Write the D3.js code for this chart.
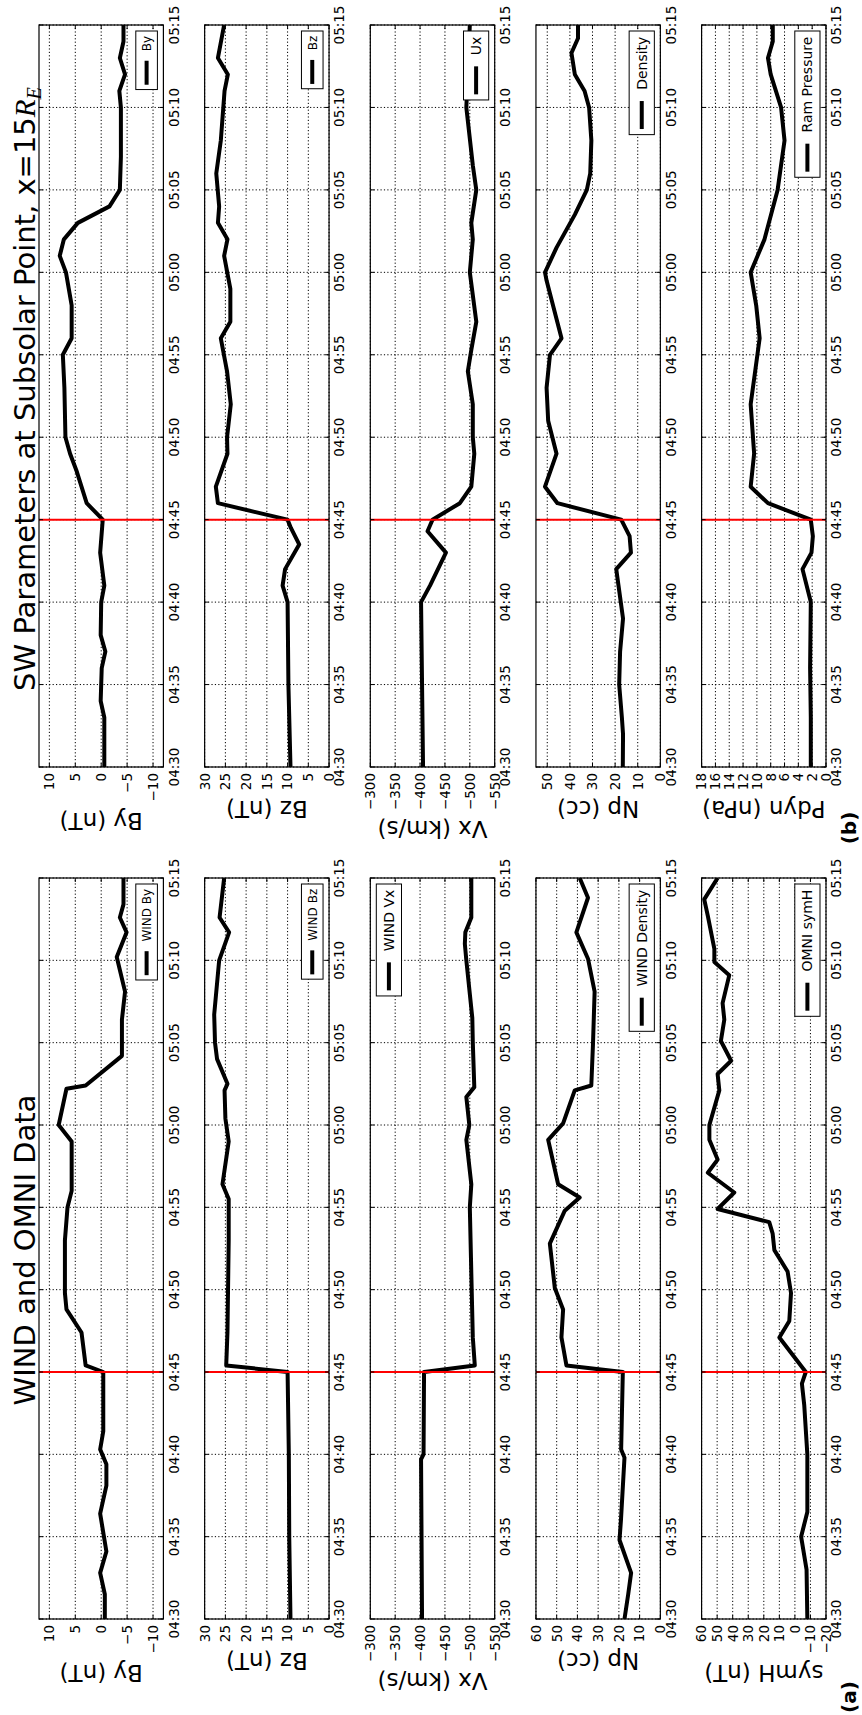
<!DOCTYPE html>
<html>
<head>
<meta charset="utf-8">
<script src="https://cdn.jsdelivr.net/npm/d3@7"></script>
<style>
  body { margin: 0; background: #fff; }
  svg { display: block; }
  text { font-family: "DejaVu Sans", sans-serif; fill: #000; }
</style>
</head>
<body>
<svg id="fig" width="862" height="1715"></svg>
<script>
// ---- time axis (clock labels) and the event marker ----
const timeTicks = ["04:30", "04:35", "04:40", "04:45", "04:50", "04:55", "05:00", "05:05", "05:10", "05:15"];
const eventTime = "04:45";

// ---- value axes: limits and tick values ----
const byRange = [-12, 12],   byTicks = [-10, -5, 0, 5, 10];
const bzRange = [0, 30],     bzTicks = [0, 5, 10, 15, 20, 25, 30];
const vxRange = [-550, -300], vxTicks = [-550, -500, -450, -400, -350, -300];
const npRangeA = [0, 60],    npTicksA = [0, 10, 20, 30, 40, 50, 60];
const npRangeB = [0, 55],    npTicksB = [0, 10, 20, 30, 40, 50];
const symhRange = [-20, 60], symhTicks = [-20, -10, 0, 10, 20, 30, 40, 50, 60];
const pdynRange = [0, 18],   pdynTicks = [0, 2, 4, 6, 8, 10, 12, 14, 16, 18];

// ---- (a) WIND and OMNI series: [minutes after 04:30, value] ----
const windBy = [[0,-0.7],[1.5,-0.7],[2.8,0.2],[4.1,-1.0],[6.4,0.2],[8.1,-1.0],[9.4,-1.0],[10.3,0.2],[11.4,-0.4],[15,-0.4],[15.4,3.0],[17.4,3.8],[18.8,6.7],[19.8,7.0],[23,7.0],[25,6.5],[26,5.7],[29,5.7],[30,8.2],[32.2,6.7],[32.4,3.0],[34.2,-4.0],[36.4,-4.0],[38.1,-4.6],[40.2,-3.0],[41.7,-4.9],[42.6,-3.6],[43.4,-4.3],[45,-4.3]];
const windBz = [[0,9.3],[5,9.6],[10,9.7],[15,10.0],[15.4,24.8],[17.4,24.5],[23,24.2],[25.5,24.2],[26.4,25.7],[29,24.2],[30.4,25.0],[32.1,25.2],[32.5,24.5],[34,27.0],[35,27.5],[36.7,27.7],[40,26.5],[41.7,24.1],[42.6,26.4],[45,25.3]];
const windVx = [[0,-404],[9.7,-402],[10,-407],[15,-408],[15.4,-510],[17.1,-506],[21,-503],[25,-500],[26.4,-503],[29.1,-493],[30,-499],[31.7,-493],[32.3,-509],[35,-506],[36.5,-505],[40,-493],[41,-490],[41.7,-491],[42.6,-503],[45,-503]];
const windNp = [[0,17.3],[1.5,15.5],[2.8,14.1],[4.8,19.7],[6,19.0],[9.8,17.3],[10.3,18.9],[15,18.1],[15.4,45.3],[17.1,47.7],[18.8,46.9],[20.1,50.9],[22.8,53.3],[24.8,46.1],[25.6,38.9],[26.4,49.3],[29.1,54.1],[30.1,46.9],[32.1,41.3],[32.4,33.3],[34.9,32.5],[38.1,31.7],[40.1,34.9],[41.7,40.5],[43.8,34.9],[45,38.9]];
const omniSymH = [[0,-8],[3,-7.5],[5,-4],[6.5,-8],[10,-8],[13,-6],[14.3,-4.5],[15,-7],[17.1,10],[18.1,3.6],[19.8,2.5],[21.1,4.7],[22.4,13.2],[23.4,14.3],[24.1,16.5],[24.9,49.7],[25.9,39],[27.1,56],[27.9,49.7],[29.1,55],[30,55],[32.1,48.6],[33.1,49.7],[33.9,41],[35.1,47.6],[36.4,45.4],[37.4,46.5],[39.1,42.2],[39.9,51.8],[40.7,51.8],[42.7,56],[43.7,58.3],[45,49.7]];

// ---- (b) solar wind at the subsolar point, x = 15 RE ----
const swBy = [[0,-0.6],[3,-0.6],[4,0.1],[6,-0.1],[7,-0.8],[8,0.1],[10,0.0],[11,-0.6],[13,0.2],[15,-0.3],[16,2.8],[17,3.8],[18,4.8],[19,6.0],[20,6.9],[23,7.1],[25,7.4],[26,5.7],[28,5.7],[30,6.8],[31,8.0],[32,7.2],[33,4.5],[34,-1.6],[35,-3.6],[37,-3.8],[40,-3.8],[41,-3.5],[42,-4.6],[43,-3.6],[44,-4.3],[45,-4.3]];
const swBz = [[0,9.3],[5,9.8],[10,10.0],[11,11.2],[12,10.6],[13.5,7.2],[14.5,9.2],[15,10.0],[16,26.8],[17,27.3],[19,24.5],[20,24.6],[22,23.7],[24,24.6],[26,26.1],[27,23.8],[29,23.8],[31,25.3],[32,24.5],[33,26.8],[34,26.5],[36,27.2],[38,26.1],[41,25.2],[42,24.4],[43,26.8],[45,25.3]];
const swUx = [[0,-406],[10,-402],[11,-420],[13,-452],[14.3,-415],[15,-425],[16,-480],[17,-503],[19,-509],[20,-506],[22,-506],[24,-496],[25.3,-503],[27,-513],[30,-500],[32,-506],[33,-503],[35,-513],[36.5,-506],[40,-493],[45,-500]];
const swNp = [[0,16.6],[2,16.5],[3,17.0],[5,18.2],[7,17.8],[9,16.5],[11,18.5],[12,19.5],[13,13.0],[14,13.6],[15,17.3],[16,45.5],[17,51.0],[19,45.9],[21,49.6],[23,50.3],[25,48.8],[26,43.7],[29.5,50.3],[30,51.0],[31.5,45.9],[33.5,37.8],[35,32.5],[36,31.0],[38,30.5],[40,31.5],[41,33.5],[42,37.8],[43.3,39.3],[44.2,36.4],[45,36.4]];
const swPdyn = [[0,2.2],[3,2.2],[6,2.3],[10,2.2],[12,3.4],[13,2.1],[14,1.9],[15,2.2],[16,8.4],[17,10.9],[19,10.4],[22,10.9],[26,9.6],[28,10.1],[30,10.9],[32,8.9],[35,7.0],[38,6.0],[40,6.5],[42,8.0],[43,8.4],[44,7.7],[45,7.7]];

// ---- panel descriptions ----
const panelsA = [
  { ylabel: "By (nT)",   legend: "WIND By",      lfs: 12, loc: "lower", data: windBy,   dom: byRange,   ticks: byTicks },
  { ylabel: "Bz (nT)",   legend: "WIND Bz",      lfs: 12, loc: "lower", data: windBz,   dom: bzRange,   ticks: bzTicks },
  { ylabel: "Vx (km/s)", legend: "WIND Vx",      lfs: 14, loc: "upper", data: windVx,   dom: vxRange,   ticks: vxTicks },
  { ylabel: "Np (cc)",   legend: "WIND Density", lfs: 14, loc: "lower", data: windNp,   dom: npRangeA,  ticks: npTicksA },
  { ylabel: "symH (nT)", legend: "OMNI symH",    lfs: 14, loc: "lower", data: omniSymH, dom: symhRange, ticks: symhTicks }
];
const panelsB = [
  { ylabel: "By (nT)",    legend: "By",           lfs: 12, loc: "lower", data: swBy,   dom: byRange,   ticks: byTicks },
  { ylabel: "Bz (nT)",    legend: "Bz",           lfs: 12, loc: "lower", data: swBz,   dom: bzRange,   ticks: bzTicks },
  { ylabel: "Vx (km/s)",  legend: "Ux",           lfs: 14, loc: "lower", data: swUx,   dom: vxRange,   ticks: vxTicks },
  { ylabel: "Np (cc)",    legend: "Density",      lfs: 14, loc: "lower", data: swNp,   dom: npRangeB,  ticks: npTicksB },
  { ylabel: "Pdyn (nPa)", legend: "Ram Pressure", lfs: 14, loc: "lower", data: swPdyn, dom: pdynRange, ticks: pdynTicks }
];

// ---- layout (drawn in landscape, then turned a quarter turn) ----
const FIG_W = 1715;
const ROW0 = 39, ROW_STEP = 165.65, PANEL_H = 124.4;
const TICK_FS = 13.5, YLABEL_FS = 23, TITLE_FS = 29;
const columns = [
  { x0: 96,  x1: 837,  panels: panelsA, title: [{ t: "WIND and OMNI Data" }], titleX: 465, tag: "(a)", tagX: 18 },
  { x0: 948, x1: 1690, panels: panelsB,
    title: [{ t: "SW Parameters at Subsolar Point, x=15" }, { t: "R", math: true }, { t: "E", math: true, sub: true }],
    titleX: 1326, tag: "(b)", tagX: 887 }
];

const toMin = s => { const [h, m] = s.split(":").map(Number); return h * 60 + m; };
const t0 = toMin(timeTicks[0]);
const tickMins = timeTicks.map(s => toMin(s) - t0);
const span = tickMins[tickMins.length - 1];
const eventMin = toMin(eventTime) - t0;
const fmt = d3.format("d");

const svg = d3.select("#fig");
svg.append("rect").attr("width", 862).attr("height", 1715).attr("fill", "#fff");
const root = svg.append("g").attr("transform", `translate(0,${FIG_W}) rotate(-90)`);
const defs = svg.append("defs");

columns.forEach((col, ci) => {
  const colW = col.x1 - col.x0;
  const x = d3.scaleLinear().domain([0, span]).range([0, colW]);

  // column title
  const title = root.append("text")
    .attr("x", col.titleX).attr("y", 35)
    .attr("text-anchor", "middle")
    .attr("font-size", TITLE_FS);
  col.title.forEach(part => {
    const ts = title.append("tspan").text(part.t);
    if (part.math) ts.attr("font-family", "'Liberation Serif', serif").attr("font-style", "italic");
    if (part.sub) ts.attr("font-size", TITLE_FS * 0.7).attr("dy", TITLE_FS * 0.2);
  });

  // panel tag
  root.append("text")
    .attr("x", col.tagX).attr("y", 856)
    .attr("text-anchor", "middle")
    .attr("font-size", 20).attr("font-weight", "bold")
    .text(col.tag);

  col.panels.forEach((p, pi) => {
    const top = ROW0 + pi * ROW_STEP;
    const g = root.append("g").attr("transform", `translate(${col.x0},${top})`);
    const y = d3.scaleLinear().domain(p.dom).range([PANEL_H, 0]);

    const clipId = `clip-${ci}-${pi}`;
    defs.append("clipPath").attr("id", clipId)
      .append("rect").attr("width", colW).attr("height", PANEL_H);

    // dotted grid
    g.append("g").selectAll("line").data(tickMins).join("line")
      .attr("x1", d => x(d)).attr("x2", d => x(d))
      .attr("y1", 0).attr("y2", PANEL_H)
      .attr("stroke", "#000").attr("stroke-width", 1).attr("stroke-dasharray", "1.2,2.2");
    g.append("g").selectAll("line").data(p.ticks).join("line")
      .attr("x1", 0).attr("x2", colW)
      .attr("y1", d => y(d)).attr("y2", d => y(d))
      .attr("stroke", "#000").attr("stroke-width", 1).attr("stroke-dasharray", "1.2,2.2");

    // data line
    const line = d3.line().x(d => x(d[0])).y(d => y(d[1]));
    g.append("path").datum(p.data)
      .attr("clip-path", `url(#${clipId})`)
      .attr("d", line)
      .attr("fill", "none").attr("stroke", "#000")
      .attr("stroke-width", 4).attr("stroke-linejoin", "round");

    // event marker
    g.append("line")
      .attr("x1", x(eventMin)).attr("x2", x(eventMin))
      .attr("y1", 0).attr("y2", PANEL_H)
      .attr("stroke", "#ff0000").attr("stroke-width", 2);

    // inward tick marks on all four sides
    const tk = g.append("g").attr("stroke", "#000").attr("stroke-width", 1);
    tickMins.forEach(m => {
      tk.append("line").attr("x1", x(m)).attr("x2", x(m)).attr("y1", PANEL_H).attr("y2", PANEL_H - 4);
      tk.append("line").attr("x1", x(m)).attr("x2", x(m)).attr("y1", 0).attr("y2", 4);
    });
    p.ticks.forEach(v => {
      tk.append("line").attr("x1", 0).attr("x2", 4).attr("y1", y(v)).attr("y2", y(v));
      tk.append("line").attr("x1", colW).attr("x2", colW - 4).attr("y1", y(v)).attr("y2", y(v));
    });

    // frame
    g.append("rect").attr("width", colW).attr("height", PANEL_H)
      .attr("fill", "none").attr("stroke", "#000").attr("stroke-width", 1.2);

    // time tick labels
    g.append("g").selectAll("text").data(timeTicks).join("text")
      .attr("x", (d, i) => x(tickMins[i]))
      .attr("y", PANEL_H + 5 + TICK_FS * 0.76)
      .attr("text-anchor", "middle")
      .attr("font-size", TICK_FS)
      .text(d => d);

    // value tick labels
    const vl = g.append("g").selectAll("text").data(p.ticks).join("text")
      .attr("x", -6).attr("y", d => y(d))
      .attr("dy", "0.36em")
      .attr("text-anchor", "end")
      .attr("font-size", TICK_FS)
      .text(d => fmt(d));
    let maxW = 0;
    vl.each(function () { maxW = Math.max(maxW, this.getComputedTextLength()); });

    // axis label
    const lx = -(6 + maxW + 11);
    g.append("text")
      .attr("transform", `translate(${lx},${PANEL_H / 2}) rotate(-90)`)
      .attr("text-anchor", "middle")
      .attr("font-size", YLABEL_FS)
      .text(p.ylabel);

    // legend
    const f = p.lfs;
    const lg = g.append("g");
    const box = lg.append("rect").attr("fill", "#fff").attr("stroke", "#000").attr("stroke-width", 1);
    const lt = lg.append("text").attr("font-size", f).text(p.legend);
    const tw = lt.node().getComputedTextLength();
    const bw = 0.4 * f + 2 * f + 0.8 * f + tw + 0.4 * f;
    const bh = 1.8 * f;
    const bx = colW - 6 - bw;
    const by = p.loc === "upper" ? 6 : PANEL_H - 6 - bh;
    box.attr("x", bx).attr("y", by).attr("width", bw).attr("height", bh);
    lg.append("line")
      .attr("x1", bx + 0.4 * f).attr("x2", bx + 2.4 * f)
      .attr("y1", by + bh / 2).attr("y2", by + bh / 2)
      .attr("stroke", "#000").attr("stroke-width", 4);
    lt.attr("x", bx + 3.2 * f).attr("y", by + bh / 2).attr("dy", "0.36em");
  });
});
</script>
</body>
</html>
